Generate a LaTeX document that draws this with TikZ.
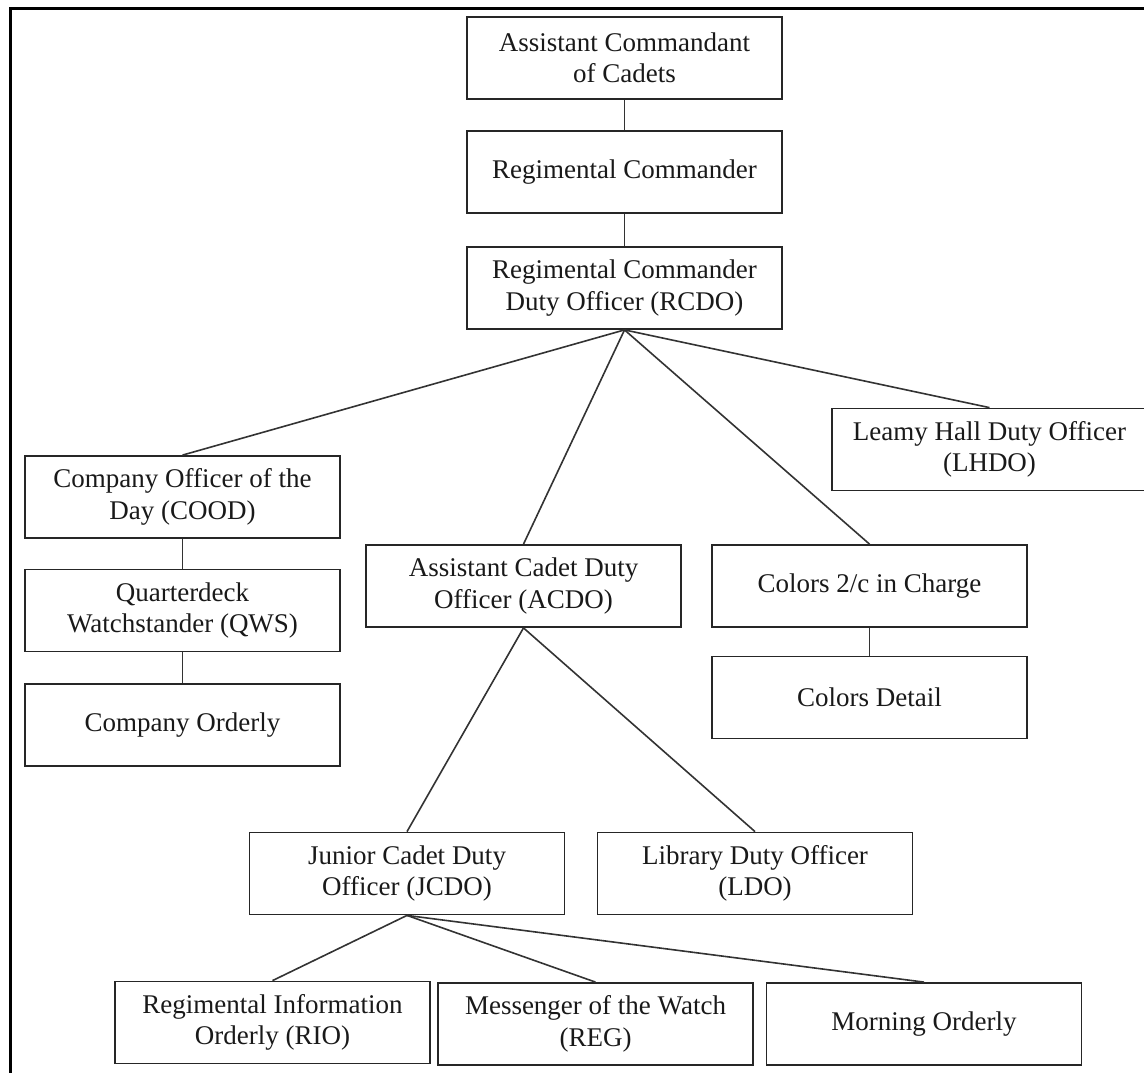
\documentclass[tikz,border=0pt]{standalone}
\usepackage{fontspec}
\setmainfont{Liberation Serif}
\usepackage{tikz}

\tikzset{
  post/.style={draw=black!85, line width=1.8pt, align=center, inner sep=0pt,
    minimum width=315pt, minimum height=82pt, text=black!90,
    font=\fontsize{27}{31.5}\selectfont},
  link/.style={draw=black!80, line width=1.6pt}
}

\begin{document}
\begin{tikzpicture}[x=1pt,y=-1pt]
  \clip (0,0) rectangle (1144,1072);
  \draw[line width=3pt] (10,1080) -- (10,8) -- (1150,8);

  % chain of command
  \node[post] (acc)  at (624.5,58)    {Assistant Commandant\\of Cadets};
  \node[post] (rc)   at (624.5,172)   {Regimental Commander};
  \node[post] (rcdo) at (624.5,288)   {Regimental Commander\\Duty Officer (RCDO)};

  \node[post] (lhdo) at (989.5,449.5) {Leamy Hall Duty Officer\\(LHDO)};
  \node[post] (cood) at (182.5,497)   {Company Officer of the\\Day (COOD)};
  \node[post] (qws)  at (182.5,610.5) {Quarterdeck\\Watchstander (QWS)};
  \node[post] (co)   at (182.5,725)   {Company Orderly};
  \node[post] (acdo) at (523.5,586)   {Assistant Cadet Duty\\Officer (ACDO)};
  \node[post] (cic)  at (869.5,586)   {Colors 2/c in Charge};
  \node[post] (cd)   at (869.5,697.5) {Colors Detail};

  \node[post] (jcdo) at (407,873.5)   {Junior Cadet Duty\\Officer (JCDO)};
  \node[post] (ldo)  at (755,873.5)   {Library Duty Officer\\(LDO)};
  \node[post] (rio)  at (272.5,1022.5) {Regimental Information\\Orderly (RIO)};
  \node[post] (mow)  at (595.5,1024)  {Messenger of the Watch\\(REG)};
  \node[post] (mo)   at (924,1024)    {Morning Orderly};

  \path[link]
    (acc.south)  edge (rc.north)
    (rc.south)   edge (rcdo.north)
    (rcdo.south) edge (cood.north)
                 edge (acdo.north)
                 edge (cic.north)
                 edge (lhdo.north)
    (cood.south) edge (qws.north)
    (qws.south)  edge (co.north)
    (cic.south)  edge (cd.north)
    (acdo.south) edge (jcdo.north)
                 edge (ldo.north)
    (jcdo.south) edge (rio.north)
                 edge (mow.north)
                 edge (mo.north)
  ;
\end{tikzpicture}
\end{document}
